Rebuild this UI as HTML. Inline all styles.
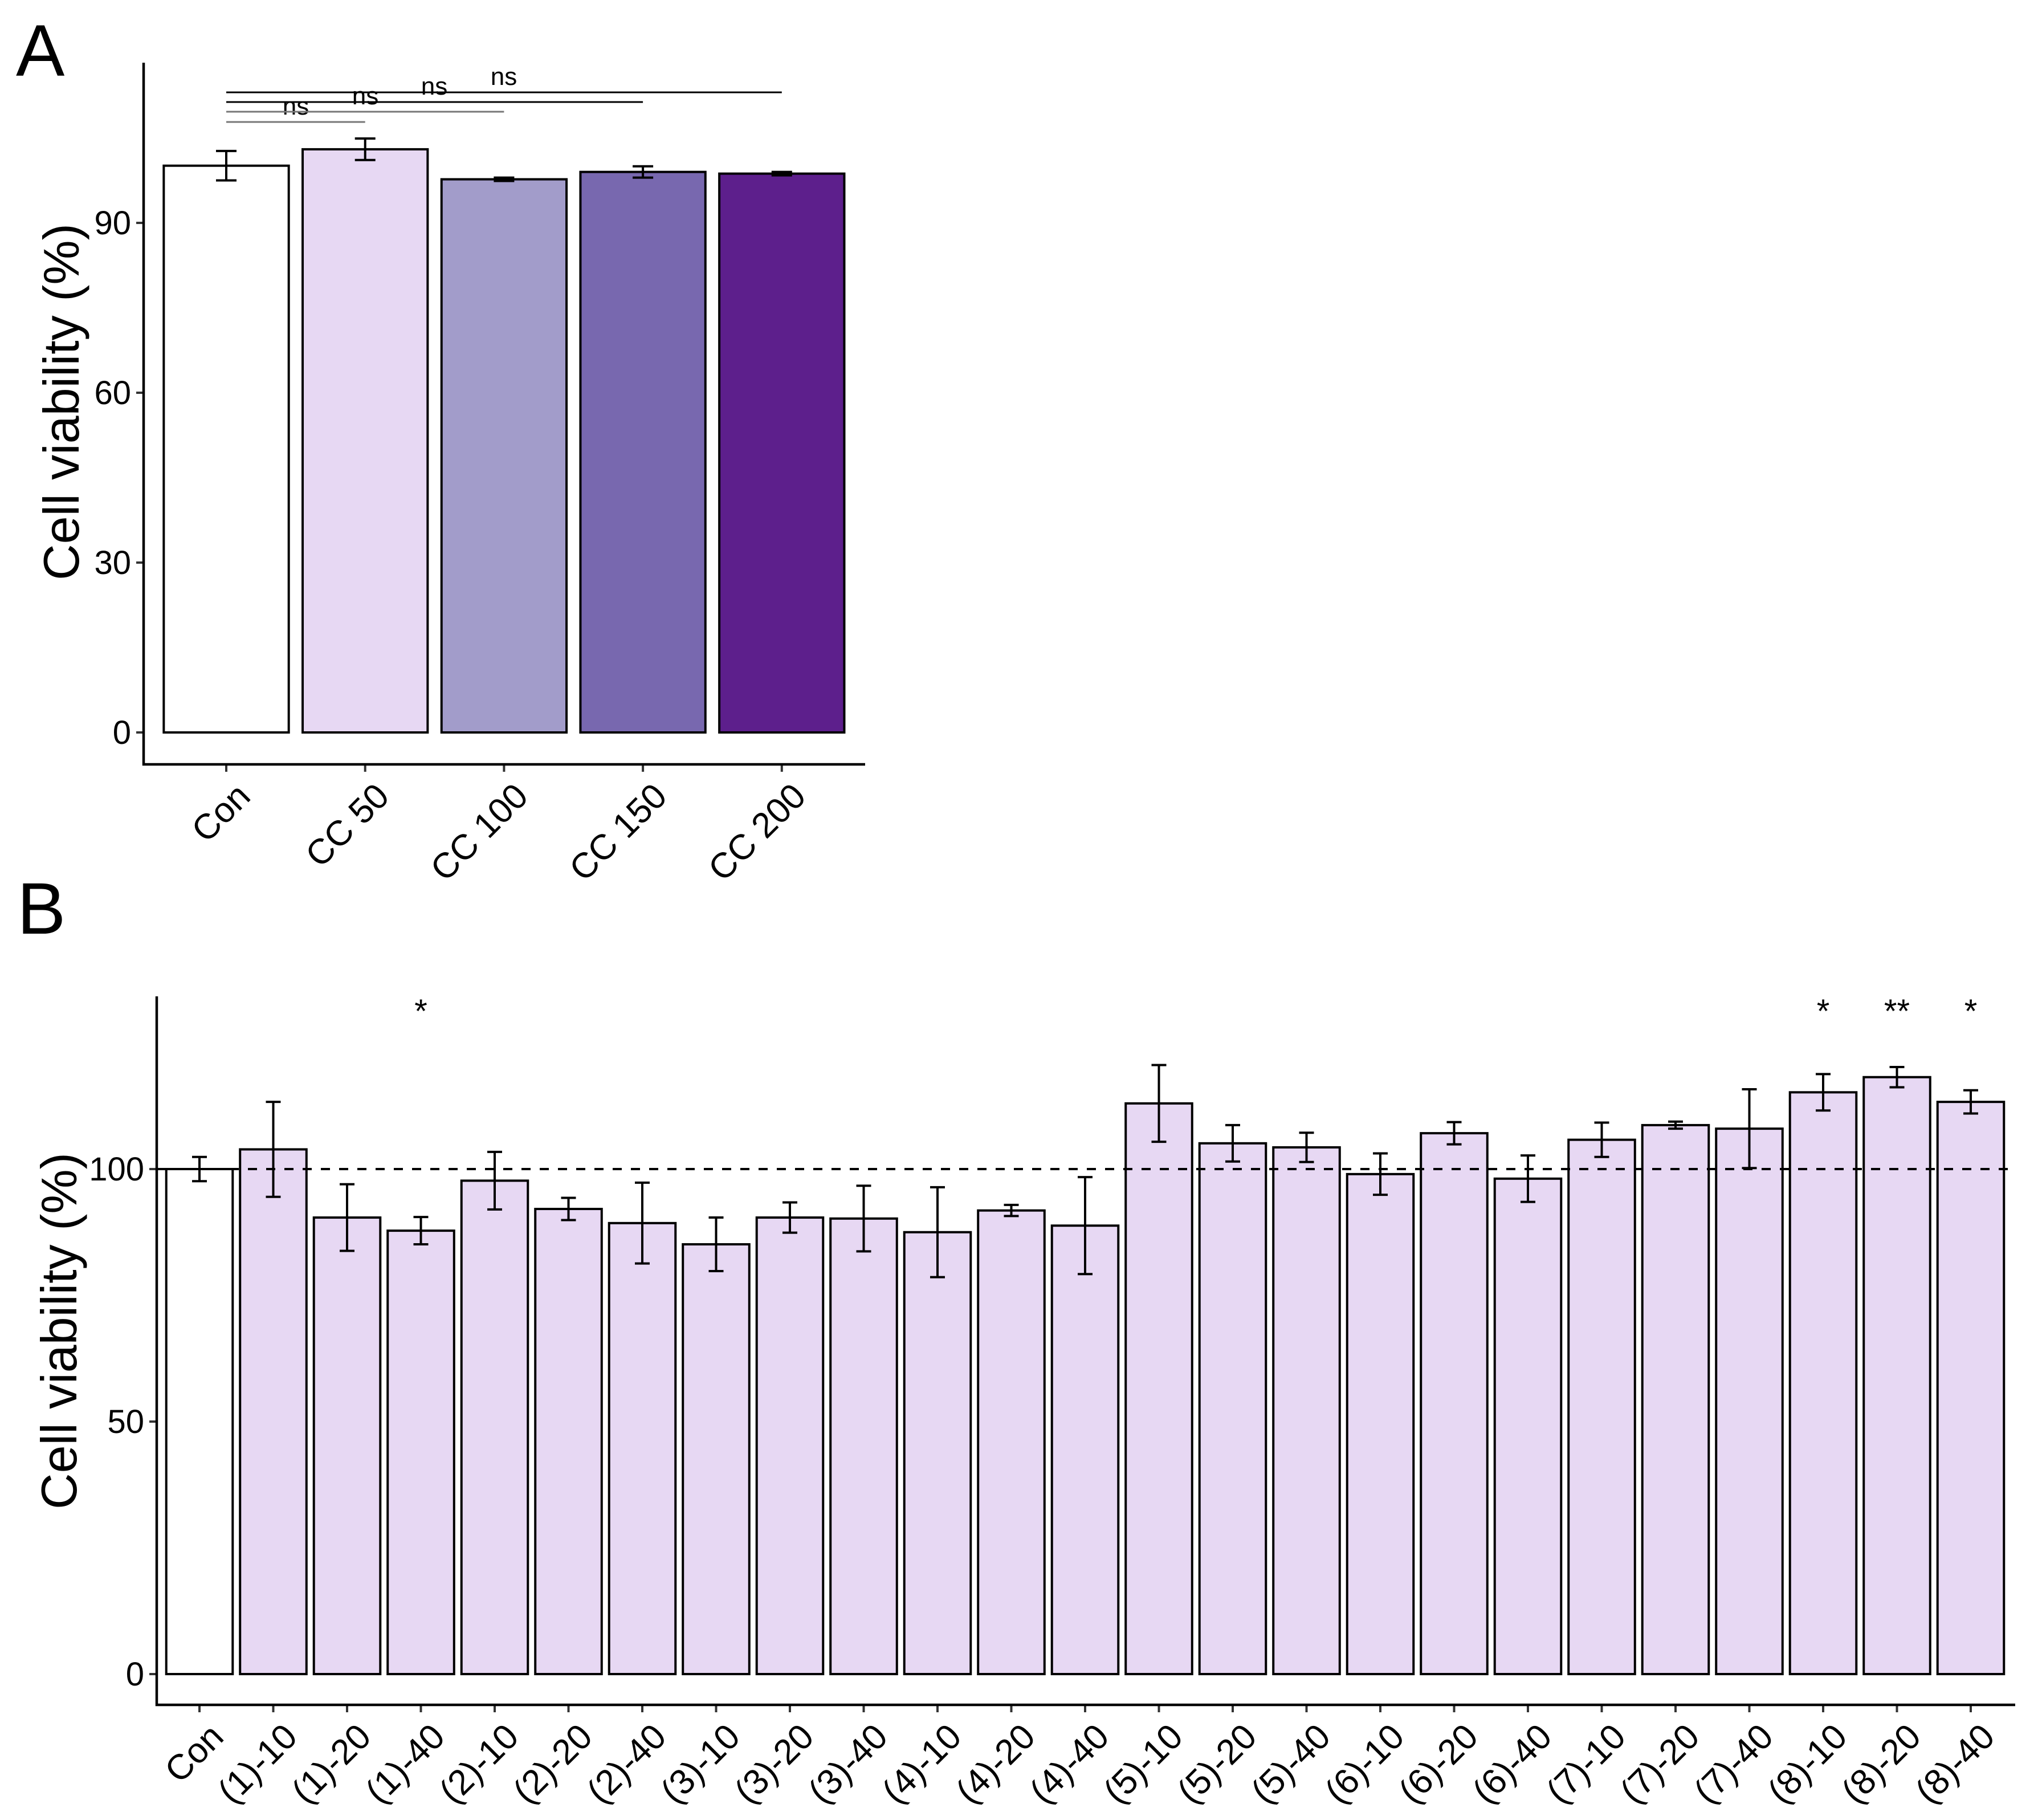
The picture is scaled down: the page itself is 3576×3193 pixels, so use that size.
<!DOCTYPE html>
<html><head><meta charset="utf-8"><style>
html,body{margin:0;padding:0;background:#fff;}
svg{display:block;font-family:"Liberation Sans",Arial,sans-serif;}
</style></head><body>
<svg id="fig" width="3576" height="3193" viewBox="0 0 3576 3193" xmlns="http://www.w3.org/2000/svg">
<rect x="0" y="0" width="3576" height="3193" fill="#fff"/>
<text x="28" y="133" font-size="128" fill="#000">A</text>
<text x="30" y="1638" font-size="128" fill="#000">B</text>
<g id="pa"></g>
<g id="pb"></g>
</svg>
<script>
// Panel A data
const aCats = ["Con","CC 50","CC 100","CC 150","CC 200"];
const aVals = [100.1,103.0,97.7,99.0,98.7];
const aErrs = [2.6,1.9,0.3,1.0,0.3];
const aColors = ["#ffffff","#e7d8f3","#a29cca","#7868af","#5d1f8c"];
const aTicks = [0,30,60,90];
const aCompare = ["CC 50","CC 100","CC 150","CC 200"];
const aCompareLabels = ["ns","ns","ns","ns"];

// Panel B data
const bCats = ["Con","(1)-10","(1)-20","(1)-40","(2)-10","(2)-20","(2)-40","(3)-10","(3)-20","(3)-40","(4)-10","(4)-20","(4)-40","(5)-10","(5)-20","(5)-40","(6)-10","(6)-20","(6)-40","(7)-10","(7)-20","(7)-40","(8)-10","(8)-20","(8)-40"];
const bVals = [100,103.9,90.4,87.8,97.7,92.1,89.3,85.1,90.4,90.2,87.5,91.8,88.8,113.0,105.1,104.3,99.0,107.1,98.1,105.8,108.7,108.0,115.2,118.2,113.3];
const bErrs = [2.4,9.4,6.6,2.7,5.7,2.2,8.0,5.3,3.0,6.5,8.9,1.1,9.6,7.6,3.6,2.9,4.1,2.2,4.6,3.4,0.7,7.8,3.6,2.0,2.3];
const bStars = ["","","","*","","","","","","","","","","","","","","","","","","","*","**","*"];
const bTicks = [0,50,100];
const bRef = 100;

const NS="http://www.w3.org/2000/svg";
function mk(parent,tag,attrs,text){const e=document.createElementNS(NS,tag);for(const k in attrs)e.setAttribute(k,attrs[k]);if(text!==undefined)e.textContent=text;parent.appendChild(e);return e;}

// ---------- Panel A ----------
(function(){
  const g=document.getElementById('pa');
  const x0=397, step=243.7, y0=1285, ppu=9.933;
  const X=i=>x0+i*step, Y=v=>y0-v*ppu, bw=step*0.9;
  const axL=252, axR=1518, axT=110, axB=1341;
  aCats.forEach((c,i)=>{
    const r=mk(g,'rect',{x:X(i)-bw/2,y:Y(aVals[i]),width:bw,height:Y(0)-Y(aVals[i]),fill:aColors[i],stroke:'#000','stroke-width':4});
    
    
    const e=mk(g,'path',{d:`M${X(i)-18},${Y(aVals[i]+aErrs[i])}H${X(i)+18}M${X(i)},${Y(aVals[i]+aErrs[i])}V${Y(aVals[i]-aErrs[i])}M${X(i)-18},${Y(aVals[i]-aErrs[i])}H${X(i)+18}`,stroke:'#000','stroke-width':4,fill:'none'});
    
    
    const t=mk(g,'line',{x1:X(i),x2:X(i),y1:axB,y2:axB+13,stroke:'#333','stroke-width':4});
    
    
    const lx=X(i)+14, ly=axB+28;
    const l=mk(g,'text',{x:lx,y:ly,'font-size':62,'text-anchor':'end',dy:'0.72em',transform:`rotate(-45 ${lx} ${ly})`,fill:'#000'},c);
    
    
  });
  const lineYs=[214,196,179,162];
  const labelXs=[519,641,762,884];
  aCompare.forEach((c,k)=>{
    const j=aCats.indexOf(c);
    const ly=lineYs[k];
    const ln=mk(g,'line',{x1:X(0),x2:X(j),y1:ly,y2:ly,stroke:k<2?'#777':'#000','stroke-width':3});
    
    
    const tx=mk(g,'text',{x:labelXs[k],y:ly-13,'font-size':44,'text-anchor':'middle',fill:'#000'},aCompareLabels[k]);
    
    
  });
  aTicks.forEach(v=>{
    const t=mk(g,'line',{x1:axL-13,x2:axL,y1:Y(v),y2:Y(v),stroke:'#333','stroke-width':4});
    
    
    const l=mk(g,'text',{x:axL-22,y:Y(v)+20,'font-size':58,'text-anchor':'end',fill:'#000'},v);
    
    
  });
  const ax=mk(g,'path',{d:`M${axL},${axT}V${axB}H${axR}`,stroke:'#000','stroke-width':4.5,fill:'none'});
  
  
  const yt=mk(g,'text',{x:0,y:0,'font-size':88,'text-anchor':'middle',transform:`translate(138 705) rotate(-90)`,fill:'#000'},'Cell viability (%)');
  
  
})();

// ---------- Panel B ----------
(function(){
  const g=document.getElementById('pb');
  const x0=350, step=129.5, y0=2937, ppu=8.86;
  const X=i=>x0+i*step, Y=v=>y0-v*ppu, bw=step*0.9;
  const axL=275, axR=3536, axT=1748, axB=2991;
  bCats.forEach((c,i)=>{
    const r=mk(g,'rect',{x:X(i)-bw/2,y:Y(bVals[i]),width:bw,height:Y(0)-Y(bVals[i]),fill:i===0?'#ffffff':'#e7d8f3',stroke:'#000','stroke-width':4});
    
    
  });
  const ref=mk(g,'line',{x1:axL,x2:axR,y1:Y(bRef),y2:Y(bRef),stroke:'#000','stroke-width':4,'stroke-dasharray':'16 16'});
  
  
  bCats.forEach((c,i)=>{
    const hi=Y(bVals[i]+bErrs[i]), lo=Y(bVals[i]-bErrs[i]);
    const e=mk(g,'path',{d:`M${X(i)-13},${hi}H${X(i)+13}M${X(i)},${hi}V${lo}M${X(i)-13},${lo}H${X(i)+13}`,stroke:'#000','stroke-width':4,fill:'none'});
    
    
    if(bStars[i]){
      const s=mk(g,'text',{x:X(i),y:1794,'font-size':58,'text-anchor':'middle',fill:'#000'},bStars[i]);
      
      
    }
    const t=mk(g,'line',{x1:X(i),x2:X(i),y1:axB,y2:axB+13,stroke:'#333','stroke-width':4});
    
    
    const lx=X(i)+14, ly=axB+28;
    const l=mk(g,'text',{x:lx,y:ly,'font-size':62,'text-anchor':'end',dy:'0.72em',transform:`rotate(-45 ${lx} ${ly})`,fill:'#000'},c);
    
    
  });
  bTicks.forEach(v=>{
    const t=mk(g,'line',{x1:axL-13,x2:axL,y1:Y(v),y2:Y(v),stroke:'#333','stroke-width':4});
    
    
    const l=mk(g,'text',{x:axL-22,y:Y(v)+20,'font-size':58,'text-anchor':'end',fill:'#000'},v);
    
    
  });
  const ax=mk(g,'path',{d:`M${axL},${axT}V${axB}H${axR}`,stroke:'#000','stroke-width':4.5,fill:'none'});
  
  
  const yt=mk(g,'text',{x:0,y:0,'font-size':88,'text-anchor':'middle',transform:`translate(134 2335) rotate(-90)`,fill:'#000'},'Cell viability (%)');
  
  
})();
</script>
</body></html>
